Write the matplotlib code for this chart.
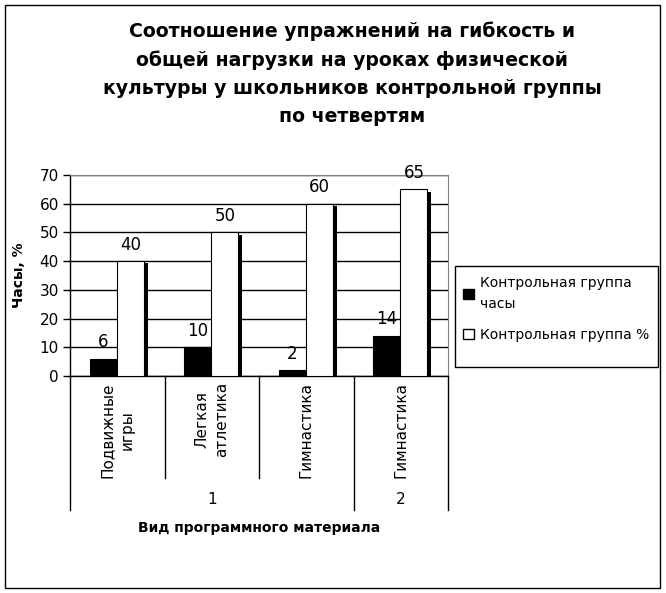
import numpy as np
import matplotlib.pyplot as plt
import matplotlib.transforms as mtransforms
from matplotlib.patches import Patch, Rectangle
from matplotlib.lines import Line2D

plt.rcParams['font.family'] = ['DejaVu Sans']

# Данные диаграммы
categories = ["Подвижные\nигры", "Легкая\nатлетика", "Гимнастика", "Гимнастика"]
quarters = ["1", "1", "1", "2"]
hours = [6, 10, 2, 14]
percent = [40, 50, 60, 65]
series_names = ["Контрольная группа\nчасы", "Контрольная группа %"]

W, H = 666, 593
fig = plt.figure(figsize=(W / 100, H / 100), dpi=100)

def fy(py):
    return 1 - py / H

def fx(px):
    return px / W

ax = fig.add_axes([fx(70), fy(376), fx(448) - fx(70), fy(175) - fy(376)])

x = np.arange(len(categories))
bw = 0.286

# столбцы
ax.bar(x - 0.146, hours, bw, color="black", edgecolor="black", linewidth=0.8, zorder=3)
ax.bar(x + 0.283, np.array(percent) - 0.8, 0.042, align="edge", color="black",
       linewidth=0, zorder=2)
ax.bar(x + 0.14, percent, bw, color="white", edgecolor="black", linewidth=0.8, zorder=3)

# подписи значений
for xi, v in zip(x, hours):
    ax.annotate(str(v), (xi - 0.146, v), xytext=(0, 5.5), textcoords="offset points",
                ha="center", va="bottom", fontsize=12, zorder=5, annotation_clip=False)
for xi, v in zip(x, percent):
    ax.annotate(str(v), (xi + 0.14, v), xytext=(0, 5.5), textcoords="offset points",
                ha="center", va="bottom", fontsize=12, zorder=5, annotation_clip=False)

ax.set_xlim(-0.5, len(categories) - 0.5)
ax.set_ylim(0, 70)
ax.set_yticks(range(0, 71, 10))
ax.tick_params(axis="y", labelsize=11, length=5, width=1, direction="out", pad=3)
ax.set_xticks([])
ax.yaxis.grid(True, color="black", linewidth=1)
ax.set_axisbelow(True)
for side in ["top", "right"]:
    ax.spines[side].set_color("gray")
ax.spines["left"].set_linewidth(1)
ax.spines["bottom"].set_linewidth(1)

ax.set_ylabel("Часы, %", fontsize=10, fontweight="bold", labelpad=10)

# многоуровневая ось категорий
trans = mtransforms.blended_transform_factory(ax.transData, fig.transFigure)
for i, name in enumerate(categories):
    fig.text(i, fy(382), name, transform=trans, rotation=90, ha="center", va="top",
             multialignment="center", fontsize=11, linespacing=1.35)

bounds = np.arange(len(categories) + 1) - 0.5
group_edges = [0] + [i for i in range(1, len(quarters)) if quarters[i] != quarters[i - 1]] + [len(quarters)]
outer = set(bounds[e] for e in group_edges)
for b in bounds:
    bottom = 510 if b in outer else 478
    fig.add_artist(Line2D([b, b], [fy(376), fy(bottom)], transform=trans,
                          color="black", linewidth=1))
for a, b in zip(group_edges[:-1], group_edges[1:]):
    fig.text((a + b - 1) / 2, fy(500), quarters[a], transform=trans,
             ha="center", va="center", fontsize=11)

fig.text(fx(259), fy(528), "Вид программного материала", ha="center", va="center",
         fontsize=10, fontweight="bold")

fig.text(fx(352), fy(73.5), "Соотношение упражнений на гибкость и\nобщей нагрузки на уроках физической\n"
         "культуры у школьников контрольной группы\nпо четвертям",
         ha="center", va="center", fontsize=13.6, fontweight="bold", linespacing=1.6)

# легенда
handles = [Patch(facecolor="black", edgecolor="black"),
           Patch(facecolor="white", edgecolor="black")]
leg = fig.legend(handles, series_names, loc="upper left",
                 bbox_to_anchor=(fx(463), fy(276)), fontsize=10, frameon=False,
                 handlelength=0.8, handleheight=0.8, handletextpad=0.4,
                 borderpad=0, labelspacing=1.25, borderaxespad=0)
for t in leg.get_texts():
    t.set_linespacing(1.6)
fig.add_artist(Rectangle((fx(455), fy(367)), fx(658) - fx(455), fy(266) - fy(367),
                         transform=fig.transFigure, fill=False, edgecolor="black", linewidth=1))

# рамка вокруг диаграммы
fig.add_artist(Rectangle((fx(5), fy(588)), fx(660) - fx(5), fy(5) - fy(588),
                         transform=fig.transFigure, fill=False, edgecolor="black", linewidth=1))

fig.savefig("out.png", dpi=100)
